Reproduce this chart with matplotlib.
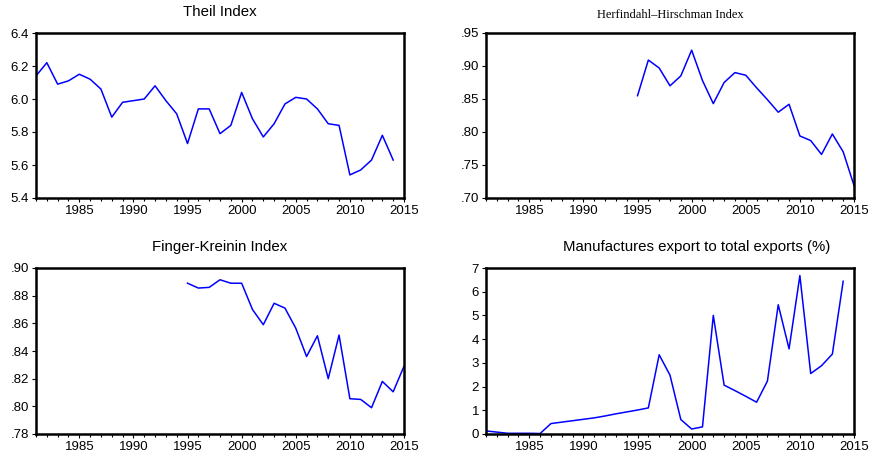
import matplotlib.pyplot as plt
from matplotlib.ticker import MultipleLocator, FormatStrFormatter, FuncFormatter
import numpy as np

plt.rcParams['font.family'] = ['Liberation Sans', 'DejaVu Sans']

# Theil Index 1981-2014
theil_years = list(range(1981, 2015))
theil = [6.14, 6.22, 6.09, 6.11, 6.15, 6.12, 6.06, 5.89, 5.98, 5.99,
         6.00, 6.08, 5.99, 5.91, 5.73, 5.94, 5.94, 5.79, 5.84, 6.04,
         5.88, 5.77, 5.85, 5.97, 6.01, 6.00, 5.94, 5.85, 5.84, 5.54,
         5.57, 5.63, 5.78, 5.63]

# Herfindahl-Hirschman Index 1995-2015
hhi_years = list(range(1995, 2016))
hhi = [0.855, 0.909, 0.897, 0.870, 0.885, 0.924, 0.878, 0.843, 0.875, 0.890,
       0.886, 0.867, 0.849, 0.830, 0.842, 0.794, 0.787, 0.766, 0.797, 0.770,
       0.719]

# Finger-Kreinin Index 1995-2015
fk_years = list(range(1995, 2016))
fk = [0.889, 0.8855, 0.886, 0.8915, 0.889, 0.889, 0.870, 0.859, 0.8745, 0.871,
      0.8565, 0.836, 0.851, 0.820, 0.8515, 0.8055, 0.805, 0.799, 0.818, 0.8105,
      0.829]

# Manufactures export share 1981-2014
manu_years = list(range(1981, 2015))
manu = [0.13, 0.08, 0.03, 0.03, 0.03, 0.02, 0.44, 0.50, 0.56, 0.62,
        0.68, 0.76, 0.85, 0.93, 1.01, 1.10, 3.34, 2.48, 0.61, 0.21,
        0.30, 5.00, 2.06, 1.83, 1.59, 1.34, 2.23, 5.45, 3.59, 6.68,
        2.55, 2.88, 3.37, 6.44]


def dot_fmt(v, pos):
    return ('%.2f' % v).lstrip('0')


def style(ax, title, ylim, ystep, yfmt, title_font=None, title_x=0.5):
    ax.set_xlim(1981, 2015)
    ax.set_ylim(*ylim)
    ax.xaxis.set_major_locator(MultipleLocator(5))
    ax.xaxis.set_minor_locator(MultipleLocator(1))
    ax.yaxis.set_major_locator(MultipleLocator(ystep))
    ax.yaxis.set_major_formatter(yfmt)
    ax.tick_params(axis='both', direction='out', labelsize=9.5, width=0.8,
                   length=3, pad=2)
    ax.tick_params(axis='x', which='minor', length=2, width=0.8)
    ax.tick_params(top=False, right=False)
    for s in ax.spines.values():
        s.set_linewidth(1.8)
    if title_font:
        ax.set_title(title, fontsize=9, pad=11, family=title_font, x=title_x)
    else:
        ax.set_title(title, fontsize=10.8, pad=12, x=title_x)


fig = plt.figure(figsize=(8.7, 4.55), dpi=100)
W, H = 870, 455
ax1 = fig.add_axes([36 / W, 1 - 198 / H, 368 / W, 165 / H])
ax2 = fig.add_axes([486 / W, 1 - 198 / H, 368 / W, 165 / H])
ax3 = fig.add_axes([36 / W, 1 - 434 / H, 368 / W, 166 / H])
ax4 = fig.add_axes([486 / W, 1 - 434 / H, 368 / W, 166 / H])

ax1.plot(theil_years, theil, color='#0000ff', lw=1.1)
style(ax1, 'Theil Index', (5.4, 6.4), 0.2, FormatStrFormatter('%.1f'))

ax2.plot(hhi_years, hhi, color='#0000ff', lw=1.1)
style(ax2, 'Herfindahl\u2013Hirschman Index', (0.70, 0.95), 0.05,
      FuncFormatter(dot_fmt), title_font=['Liberation Serif', 'DejaVu Serif'])

ax3.plot(fk_years, fk, color='#0000ff', lw=1.1)
style(ax3, 'Finger-Kreinin Index', (0.78, 0.90), 0.02, FuncFormatter(dot_fmt))

ax4.plot(manu_years, manu, color='#0000ff', lw=1.1)
style(ax4, 'Manufactures export to total exports (%)', (0, 7), 1,
      FormatStrFormatter('%d'), title_x=0.573)

fig.savefig('out.png', dpi=100)
